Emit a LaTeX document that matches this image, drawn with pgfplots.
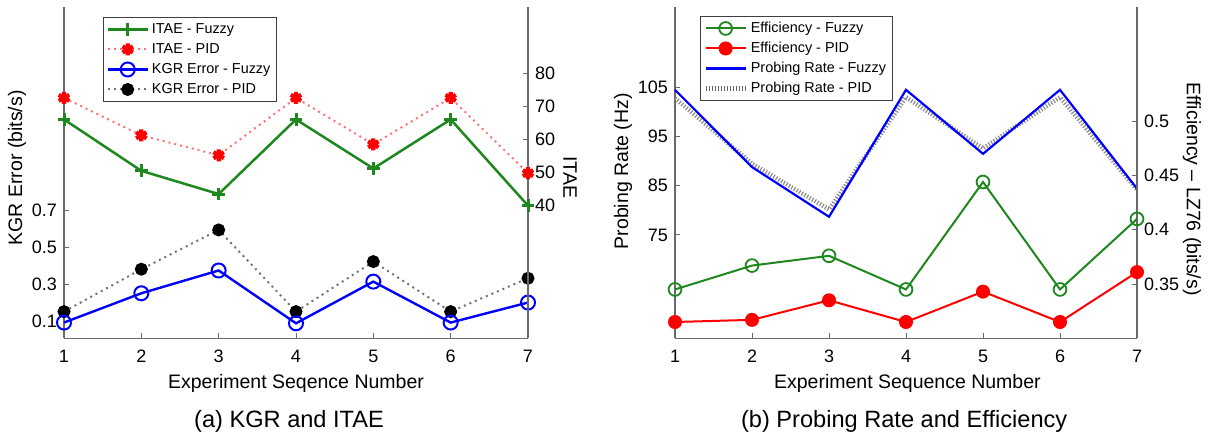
\documentclass[border=0pt]{standalone}
\usepackage{fontspec}
\setmainfont{Liberation Sans}
\usepackage{pgfplots}
\pgfplotsset{compat=1.18}

\definecolor{mgreen}{RGB}{30,135,30}
\definecolor{axgray}{RGB}{105,105,105}

\pgfplotsset{
  base/.style={scale only axis, width=232pt, height=165.8pt, xmin=1, xmax=7, clip=false,
    axis line style={-, draw=axgray, line width=0.6pt},
    tick style={draw=axgray, line width=0.5pt}, major tick length=2.5pt, tick align=inside,
    /pgf/number format/assume math mode=true,
    ticklabel style={font=\fontsize{9}{10}\selectfont},
    xticklabel style={yshift=-2.2pt},
    label style={font=\fontsize{9.75}{11}\selectfont},
    title style={font=\fontsize{11.8}{13}\selectfont, yshift=-6pt},
    legend image code/.code={\draw[mark repeat=2,mark phase=2] plot coordinates {(0pt,0pt)(10pt,0pt)(20pt,0pt)};},
    legend cell align=left,
    legend style={draw=black!75, line width=0.5pt, fill=white, inner xsep=1.5pt, inner ysep=1pt,
      font=\fontsize{7.2}{8}\selectfont, row sep=0pt,
      nodes={inner ysep=1.5pt, inner xsep=1.5pt, text height=5.6pt, text depth=1.4pt}},
  },
}

\begin{document}
\begin{tikzpicture}
\path[use as bounding box] (0,0) rectangle (609pt,219pt);

% ---------------- (a) left panel ----------------
\begin{axis}[base, at={(32pt,49.85pt)}, anchor=south west,
  axis x line*=bottom, axis y line*=left,
  ymin=0.01, ymax=1.8, ytick={0.1,0.3,0.5,0.7}, xtick={1,...,7},
  xlabel={Experiment Seqence Number},
  xlabel style={at={(axis description cs:0.5,-0.135)}, anchor=center},
  ylabel={KGR Error (bits/s)},
  ylabel style={at={(axis description cs:-0.101,0.514)}, anchor=center},
  title={(a) KGR and ITAE},
  title style={at={(axis description cs:0.485,-0.252)}, anchor=center},
]
\addplot[black!55, dotted, line width=1pt, mark=*, mark size=2.75pt,
  mark options={solid, draw=black, fill=black}]
  coordinates {(1,0.154) (2,0.383) (3,0.595) (4,0.154) (5,0.424) (6,0.154) (7,0.334)};
\addplot[blue, line width=1.2pt, mark=o, mark size=3.5pt, mark options={line width=1pt}]
  coordinates {(1,0.095) (2,0.253) (3,0.376) (4,0.091) (5,0.316) (6,0.095) (7,0.203)};
\end{axis}

\begin{axis}[base, at={(32pt,49.85pt)}, anchor=south west,
  axis x line=none, axis y line*=right,
  ymin=0, ymax=100, ytick={40,50,60,70,80},
  ylabel={ITAE},
  ylabel style={at={(axis description cs:1.0905,0.486)}, anchor=center, rotate=180},
  legend style={at={(axis description cs:0.084,0.969)}, anchor=north west},
]
\addplot[mgreen, line width=1.25pt, mark=+, mark size=3.2pt, mark options={line width=1.5pt}]
  coordinates {(1,66) (2,50.5) (3,43.5) (4,66) (5,51.2) (6,66) (7,40)};
\addlegendentry{ITAE - Fuzzy}
\addplot[red!55, dotted, line width=1pt, mark=asterisk, mark size=3pt,
  mark options={solid, draw=red, line width=2.1pt}]
  coordinates {(1,72.5) (2,61.2) (3,55.2) (4,72.5) (5,58.5) (6,72.5) (7,49.8)};
\addlegendentry{ITAE - PID}
\addlegendimage{blue, line width=1.2pt, mark=o, mark size=3.5pt, mark options={line width=1pt}}
\addlegendentry{KGR Error - Fuzzy}
\addlegendimage{black!55, dotted, line width=1pt, mark=*, mark size=2.75pt, mark options={solid, draw=black, fill=black}}
\addlegendentry{KGR Error - PID}
\end{axis}

% ---------------- (b) right panel ----------------
\begin{axis}[base, width=231pt, at={(337.5pt,49.85pt)}, anchor=south west,
  axis x line*=bottom, axis y line*=left,
  ymin=54, ymax=121.4, ytick={75,85,95,105}, xtick={1,...,7},
  xlabel={Experiment Sequence Number},
  xlabel style={at={(axis description cs:0.503,-0.135)}, anchor=center},
  ylabel={Probing Rate (Hz)},
  ylabel style={at={(axis description cs:-0.1126,0.504)}, anchor=center},
  title={(b) Probing Rate and Efficiency},
  title style={at={(axis description cs:0.496,-0.252)}, anchor=center},
]
\addplot[black!45, line width=2.2pt, dash pattern=on 0.6pt off 0.9pt]
  coordinates {(1,102.8) (2,89.5) (3,80.2) (4,103) (5,92.6) (6,103) (7,84.2)};
\addplot[blue, line width=1.1pt]
  coordinates {(1,104.5) (2,88.8) (3,78.7) (4,104.5) (5,91.5) (6,104.5) (7,84.4)};
\end{axis}

\begin{axis}[base, width=231pt, at={(337.5pt,49.85pt)}, anchor=south west,
  axis x line=none, axis y line*=right,
  ymin=0.3, ymax=0.6055, ytick={0.35,0.4,0.45,0.5},
  ylabel={Efficiency -- LZ76 (bits/s)},
  ylabel style={at={(axis description cs:1.119,0.45)}, anchor=center, rotate=180},
  legend style={at={(axis description cs:0.054,0.972)}, anchor=north west},
]
\addplot[mgreen, line width=1pt, mark=o, mark size=3.2pt, mark options={line width=0.9pt}]
  coordinates {(1,0.345) (2,0.367) (3,0.376) (4,0.345) (5,0.444) (6,0.345) (7,0.410)};
\addlegendentry{Efficiency - Fuzzy}
\addplot[red, line width=1pt, mark=*, mark size=3pt]
  coordinates {(1,0.315) (2,0.317) (3,0.335) (4,0.315) (5,0.343) (6,0.315) (7,0.361)};
\addlegendentry{Efficiency - PID}
\addlegendimage{blue, line width=1.1pt}
\addlegendentry{Probing Rate - Fuzzy}
\addlegendimage{black!60, line width=2.2pt, dash pattern=on 0.6pt off 0.9pt}
\addlegendentry{Probing Rate - PID}
\end{axis}
\end{tikzpicture}
\end{document}
